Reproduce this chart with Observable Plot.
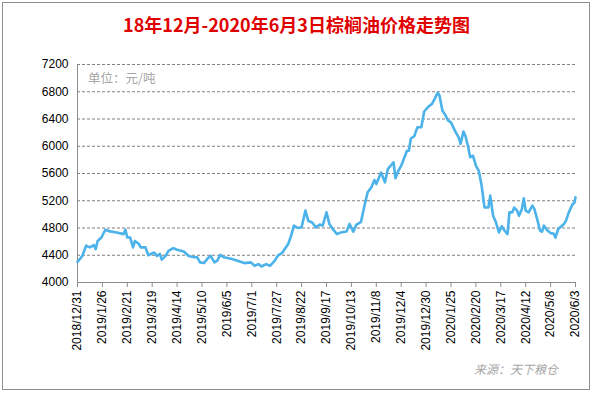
<!DOCTYPE html>
<html>
<head>
<meta charset="utf-8">
<script src="https://cdn.jsdelivr.net/npm/d3@7"></script>
<script src="https://cdn.jsdelivr.net/npm/@observablehq/plot@0.6"></script>
<style>
  html, body { margin: 0; padding: 0; background: #fff; }
  #wrap { position: relative; width: 593px; height: 393px; overflow: hidden; background: #fff; }
  #frame { position: absolute; left: 2px; top: 2px; width: 586px; height: 386px; border: 1px solid #8c8c8c; }
  #title { position: absolute; left: 0; width: 593px; top: 11px; text-align: center;
           font-family: "Noto Sans CJK SC", sans-serif; font-weight: bold; font-size: 18px; color: #e00000; }
  #unit { position: absolute; left: 88px; top: 68px; font-family: "Noto Sans CJK SC", sans-serif;
          font-size: 12.5px; color: #a6a6a6; }
  #source { position: absolute; left: 474px; top: 360px; font-family: "Noto Sans CJK SC", sans-serif;
            font-size: 12px; font-style: italic; color: #a6a6a6; }
  #plot { position: absolute; left: 0; top: 0; }
</style>
</head>
<body>
<div id="wrap">
  <div id="frame"></div>
  <div id="plot"></div>
  <div id="title">18年12月-2020年6月3日棕榈油价格走势图</div>
  <div id="unit">单位：元/吨</div>
  <div id="source">来源：天下粮仓</div>
</div>
<script>
const dates = ["2018-12-31","2019-01-05","2019-01-09","2019-01-13","2019-01-17","2019-01-19","2019-01-21","2019-01-25","2019-01-29","2019-02-03",
"2019-02-10","2019-02-17","2019-02-19","2019-02-21","2019-02-24","2019-02-27","2019-03-01","2019-03-05","2019-03-07","2019-03-12",
"2019-03-15","2019-03-21","2019-03-24","2019-03-27","2019-03-29","2019-04-02","2019-04-05","2019-04-10","2019-04-14","2019-04-21",
"2019-04-26","2019-05-02","2019-05-05","2019-05-08","2019-05-12","2019-05-16","2019-05-19","2019-05-23","2019-05-26","2019-05-29",
"2019-06-02","2019-06-07","2019-06-13","2019-06-23","2019-06-30","2019-07-04","2019-07-08","2019-07-11","2019-07-16","2019-07-20",
"2019-07-25","2019-07-28","2019-08-02","2019-08-08","2019-08-11","2019-08-14","2019-08-18","2019-08-22","2019-08-26","2019-08-29",
"2019-09-02","2019-09-06","2019-09-10","2019-09-13","2019-09-17","2019-09-20","2019-09-24","2019-09-28","2019-10-02","2019-10-08",
"2019-10-11","2019-10-15","2019-10-18","2019-10-23","2019-10-27","2019-10-30","2019-11-03","2019-11-06","2019-11-08","2019-11-13",
"2019-11-17","2019-11-20","2019-11-26","2019-11-28","2019-12-01","2019-12-04","2019-12-10","2019-12-12","2019-12-14","2019-12-18",
"2019-12-19","2019-12-21","2019-12-25","2019-12-28","2020-01-01","2020-01-05","2020-01-08","2020-01-11","2020-01-13","2020-01-16",
"2020-01-19","2020-01-22","2020-01-25","2020-01-29","2020-02-02","2020-02-04","2020-02-07","2020-02-09","2020-02-12","2020-02-14",
"2020-02-17","2020-02-20","2020-02-23","2020-02-26","2020-02-29","2020-03-04","2020-03-06","2020-03-09","2020-03-12","2020-03-15",
"2020-03-18","2020-03-21","2020-03-24","2020-03-26","2020-03-29","2020-03-31","2020-04-03","2020-04-05","2020-04-08","2020-04-10",
"2020-04-12","2020-04-15","2020-04-19","2020-04-21","2020-04-24","2020-04-27","2020-04-29","2020-05-01","2020-05-04","2020-05-08",
"2020-05-11","2020-05-13","2020-05-16","2020-05-18","2020-05-22","2020-05-24","2020-05-27","2020-05-31","2020-06-02","2020-06-03"];

const prices = [4300,4390,4540,4515,4550,4490,4610,4660,4775,4750,
4735,4710,4775,4660,4660,4515,4610,4565,4515,4515,
4400,4440,4390,4420,4335,4390,4465,4505,4480,4455,
4390,4370,4370,4295,4285,4355,4390,4295,4320,4405,
4370,4355,4335,4285,4295,4245,4270,4235,4270,4245,
4320,4390,4440,4565,4685,4835,4800,4810,5055,4905,
4880,4810,4850,4835,5030,4860,4775,4710,4735,4750,
4860,4745,4845,4890,5150,5325,5400,5505,5445,5615,
5470,5665,5765,5530,5640,5715,5935,5935,6110,6155,
6205,6280,6280,6510,6575,6620,6695,6785,6745,6525,
6460,6375,6350,6230,6130,6035,6215,6155,5985,5840,
5860,5715,5640,5420,5100,5100,5275,4980,4880,4735,
4825,4760,4710,5030,5030,5100,5055,4980,5080,5235,
5055,5030,5130,5080,4930,4760,4745,4835,4775,4725,
4720,4660,4785,4810,4860,4905,5030,5150,5175,5250];

const xTickLabels = ["2018/12/31","2019/1/26","2019/2/21","2019/3/19","2019/4/14","2019/5/10","2019/6/5","2019/7/1","2019/7/27","2019/8/22","2019/9/17","2019/10/13","2019/11/8","2019/12/4","2019/12/30","2020/1/25","2020/2/20","2020/3/17","2020/4/12","2020/5/8","2020/6/3"];
const yTicks = [4000,4400,4800,5200,5600,6000,6400,6800,7200];

const parseTick = d3.utcParse("%Y/%m/%d");
const xTicks = xTickLabels.map(parseTick);
const data = dates.map((d, i) => ({date: d3.utcParse("%Y-%m-%d")(d), price: prices[i]}));
const fmt = d3.utcFormat("%Y/%-m/%-d");

const chart = Plot.plot({
  width: 593,
  height: 393,
  marginLeft: 77,
  marginRight: 18,
  marginTop: 64,
  marginBottom: 111,
  style: {fontFamily: "'Liberation Sans', Arial, sans-serif", fontSize: "12px", color: "#000", background: "transparent"},
  x: {type: "utc", domain: [xTicks[0], xTicks[xTicks.length - 1]], label: null},
  y: {domain: [4000, 7200], label: null},
  marks: [
    Plot.gridY(yTicks.slice(1), {stroke: "#7f7f7f", strokeOpacity: 1, strokeDasharray: "3,2", strokeWidth: 1}),
    Plot.axisY(yTicks, {tickSize: 0, tickPadding: 9, fontSize: 12, fill: "#000", tickFormat: d => String(d), label: null}),
    Plot.axisX(xTicks, {tickFormat: fmt, tickRotate: -90, tickSize: 5, tickPadding: 3, stroke: "#8c8c8c", fontSize: 12, fill: "#000", label: null}),
    Plot.ruleX([xTicks[0]], {stroke: "#8c8c8c"}),
    Plot.ruleY([4000], {stroke: "#8c8c8c"}),
    Plot.lineY(data, {x: "date", y: "price", stroke: "#4bb2ea", strokeWidth: 2.6, strokeLinejoin: "round"})
  ]
});
document.getElementById("plot").appendChild(chart);
</script>
</body>
</html>
